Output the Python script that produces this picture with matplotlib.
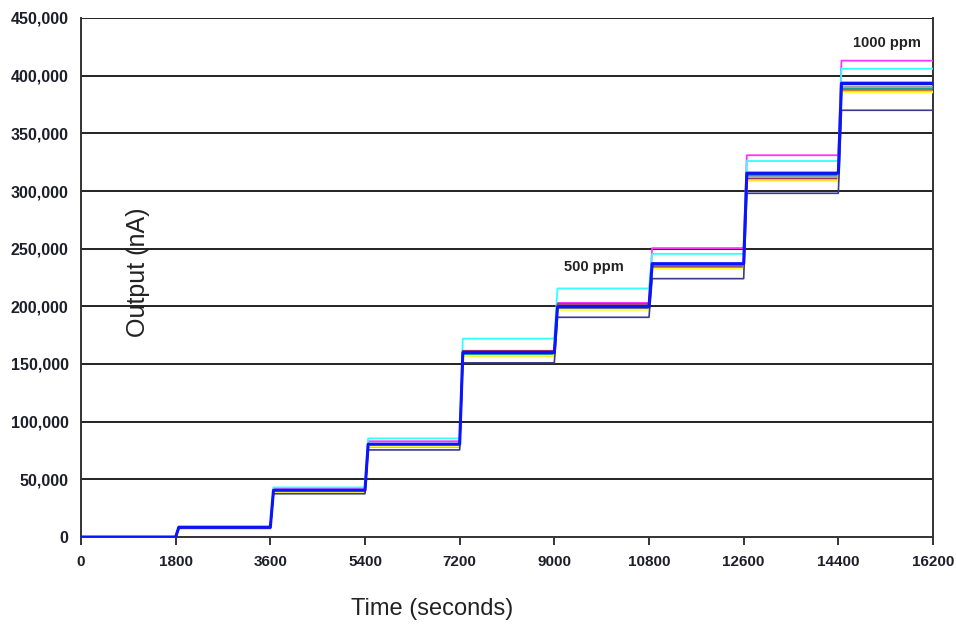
import matplotlib
matplotlib.use("Agg")
import matplotlib.pyplot as plt
from matplotlib.ticker import FuncFormatter

plt.rcParams['font.family'] = ['Liberation Sans', 'DejaVu Sans']

# Step boundaries (seconds)
step_times = [0, 1800, 3600, 5400, 7200, 9000, 10800, 12600, 14400, 16200]
x_tick_labels = ["0", "1800", "3600", "5400", "7200", "9000", "10800", "12600", "14400", "16200"]
y_ticks = [0, 50000, 100000, 150000, 200000, 250000, 300000, 350000, 400000, 450000]

# Output level (nA) in each step interval, one list per sensor
magenta = [0, 8500, 42000, 83000, 161000, 203000, 250500, 331000, 413000]
cyan    = [0, 8800, 43000, 85500, 172000, 215500, 245500, 326000, 406000]
navy    = [0, 8000, 40000, 80000, 159000, 199000, 236500, 314500, 392500]
grey    = [0, 8000, 39000, 78000, 157500, 198000, 235000, 313000, 390500]
teal    = [0, 8200, 39500, 79500, 158500, 198500, 235500, 313500, 389000]
purple  = [0, 8300, 40000, 80000, 161500, 202000, 234000, 311000, 387500]
orange  = [0, 8000, 39000, 78500, 157000, 197500, 233000, 309500, 386500]
yellow  = [0, 8000, 39000, 78500, 157000, 197000, 232500, 308500, 385500]
slate   = [0, 7500, 37500, 75500, 151000, 190500, 224000, 298000, 370000]
blue    = [0, 8500, 40500, 80500, 160000, 199500, 237000, 315500, 393500]

series = [
    (magenta, '#ff33ff', 1.3),
    (cyan, '#33ffff', 1.3),
    (navy, '#1a1a80', 1.2),
    (grey, '#a0a0a0', 1.2),
    (teal, '#1f9f8f', 1.2),
    (purple, '#993366', 1.2),
    (orange, '#f0b000', 1.2),
    (yellow, '#ffff33', 1.3),
    (slate, '#3a3a8c', 1.2),
    (blue, '#0a14ff', 2.2),
]

RISE = 60  # seconds for each transition


def step_path(levels):
    xs, ys = [], []
    for i, lv in enumerate(levels):
        start = step_times[i] + (RISE if i > 0 else 0)
        end = step_times[i + 1]
        xs += [start, end]
        ys += [lv, lv]
    return xs, ys


fig = plt.figure(figsize=(9.56, 6.26), dpi=100)
ax = fig.add_axes([81 / 956, (626 - 537) / 626, (933 - 81) / 956, (537 - 18) / 626])

for y in y_ticks[1:]:
    ax.axhline(y, color='#222222', lw=1.4, zorder=1)

for levels, color, lw in series:
    xs, ys = step_path(levels)
    ax.plot(xs, ys, color=color, lw=lw, zorder=3)

ax.set_xlim(0, 16200)
ax.set_ylim(0, 450000)
ax.set_xticks(step_times)
ax.set_xticklabels(x_tick_labels)
ax.set_yticks(y_ticks)
ax.yaxis.set_major_formatter(FuncFormatter(lambda v, p: f"{int(v):,}"))

for lab in ax.get_xticklabels():
    lab.set_fontweight('bold')
    lab.set_fontsize(11)
    lab.set_color('#1e1e2a')
for lab in ax.get_yticklabels():
    lab.set_fontweight('bold')
    lab.set_fontsize(11.5)
    lab.set_color('#1e1e2a')

ax.tick_params(axis='x', direction='out', length=6, width=1.4, color='#333333', pad=7)
ax.tick_params(axis='y', length=0, pad=9)

for side in ['left', 'right', 'bottom']:
    ax.spines[side].set_color('#333333')
    ax.spines[side].set_linewidth(1.4)
ax.spines['top'].set_visible(False)

fig.text(138 / 956, 1 - 272 / 626, "Output (nA)", rotation=90, fontsize=18,
         ha='center', va='center', color='#222222')
fig.text(432 / 956, 1 - 609 / 626, "Time (seconds)", fontsize=17,
         ha='center', va='center', color='#222222')

fig.text(887 / 956, 1 - 43.5 / 626, "1000 ppm", fontsize=10.5, fontweight='bold',
         ha='center', va='center', color='#222222')
fig.text(593.5 / 956, 1 - 267 / 626, "500 ppm", fontsize=10.5, fontweight='bold',
         ha='center', va='center', color='#222222')

fig.savefig("out.png", dpi=100)
